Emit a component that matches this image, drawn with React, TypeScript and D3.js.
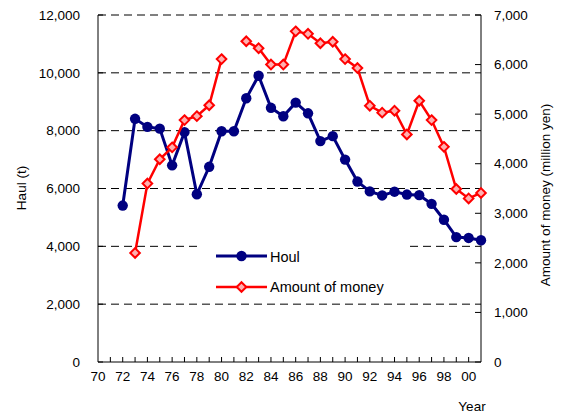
import React from "react";
import * as d3 from "d3";

const years: number[] = d3.range(1972, 2002);
const haul: (number | null)[] = [
  5410, 8410, 8130, 8070, 6800, 7950, 5800, 6750, 7980, 7980,
  9120, 9900, 8790, 8500, 8970, 8600, 7640, 7810, 7000, 6240,
  5900, 5760, 5890, 5790, 5770, 5470, 4920, 4320, 4290, 4210,
];
const money: (number | null)[] = [
  null, 2200, 3600, 4090, 4330, 4880, 4960, 5180, 6110, null,
  6470, 6330, 6000, 6000, 6670, 6620, 6430, 6460, 6110, 5930,
  5170, 5030, 5070, 4590, 5270, 4880, 4340, 3490, 3300, 3410,
];
const xTickLabels: string[] = ["70","72","74","76","78","80","82","84","86","88","90","92","94","96","98","00"];
const leftTicks: number[] = [0, 2000, 4000, 6000, 8000, 10000, 12000];
const rightTicks: number[] = [0, 1000, 2000, 3000, 4000, 5000, 6000, 7000];
const seriesNames: string[] = ["Houl", "Amount of money"];

const W = 562, H = 416;
const L = 98, R = 481, T = 15, B = 362;
const FONT = "'Liberation Sans', Arial, sans-serif";

export default function App() {
  const x = d3.scaleLinear().domain([1970, 2001]).range([L, R]);
  const yL = d3.scaleLinear().domain([0, 12000]).range([B, T]);
  const yR = d3.scaleLinear().domain([0, 7000]).range([B, T]);
  const fmt = d3.format(",");

  const haulPts = years.map((yr, i) => ({ yr, v: haul[i] }));
  const moneyPts = years.map((yr, i) => ({ yr, v: money[i] }));

  const haulLine = d3.line<{ yr: number; v: number | null }>()
    .defined(d => d.v != null)
    .x(d => x(d.yr))
    .y(d => yL(d.v as number));
  const moneyLine = d3.line<{ yr: number; v: number | null }>()
    .defined(d => d.v != null)
    .x(d => x(d.yr))
    .y(d => yR(d.v as number));

  const diamond = (cx: number, cy: number, r: number) =>
    `M${cx},${cy - r}L${cx + r},${cy}L${cx},${cy + r}L${cx - r},${cy}Z`;

  const legX1 = 216, legX2 = 267;
  const legY1 = 256, legY2 = 287;

  return (
    <div style={{ position: "absolute", left: 0, top: 0 }}>
      <svg width={W} height={H} style={{ display: "block", background: "#fff" }} fontFamily={FONT}>
        {/* gridlines */}
        {leftTicks.filter(t => t > 0).map(t => (
          <line key={"g" + t} x1={L} x2={R} y1={yL(t)} y2={yL(t)} stroke="#000" strokeWidth={1} strokeDasharray="8,5" />
        ))}
        {/* axes */}
        <line x1={L} x2={L} y1={T} y2={B} stroke="#000" strokeWidth={1} />
        <line x1={R} x2={R} y1={T} y2={B} stroke="#000" strokeWidth={1} />
        <line x1={L} x2={R} y1={B} y2={B} stroke="#000" strokeWidth={1} />
        {d3.range(1971, 2001).map(yr => (
          <line key={"xt" + yr} x1={x(yr)} x2={x(yr)} y1={B} y2={B - 5} stroke="#000" strokeWidth={1} />
        ))}
        {leftTicks.map(t => (
          <line key={"lt" + t} x1={L} x2={L + 5} y1={yL(t)} y2={yL(t)} stroke="#000" strokeWidth={1} />
        ))}
        {rightTicks.map(t => (
          <line key={"rt" + t} x1={R - 6} x2={R} y1={yR(t)} y2={yR(t)} stroke="#000" strokeWidth={1} />
        ))}
        {/* tick labels */}
        {leftTicks.map(t => (
          <text key={"ll" + t} x={80} y={yL(t)} dy="0.35em" textAnchor="end" fontSize={13.5}>{fmt(t)}</text>
        ))}
        {rightTicks.map(t => (
          <text key={"rl" + t} x={494} y={yR(t)} dy="0.35em" textAnchor="start" fontSize={13.5}>{fmt(t)}</text>
        ))}
        {xTickLabels.map((lab, i) => (
          <text key={"xl" + lab} x={x(1970 + i * 2)} y={381} textAnchor="middle" fontSize={13.5}>{lab}</text>
        ))}
        <text x={472} y={411} textAnchor="middle" fontSize={13.5}>Year</text>
        <text transform={`translate(26,188) rotate(-90)`} textAnchor="middle" fontSize={13.5}>Haul (t)</text>
        <text transform={`translate(550,195) rotate(-90)`} textAnchor="middle" fontSize={13.5}>Amount of money (million yen)</text>

        {/* legend box */}
        <rect x={199} y={234} width={207} height={64} fill="#fff" />

        {/* series */}
        <path d={haulLine(haulPts) || ""} fill="none" stroke="#000080" strokeWidth={3} />
        {haulPts.filter(d => d.v != null).map(d => (
          <circle key={"h" + d.yr} cx={x(d.yr)} cy={yL(d.v as number)} r={5.2} fill="#000080" />
        ))}
        <path d={moneyLine(moneyPts) || ""} fill="none" stroke="#ff0000" strokeWidth={2.5} />
        {moneyPts.filter(d => d.v != null).map(d => (
          <path key={"m" + d.yr} d={diamond(x(d.yr), yR(d.v as number), 4.8)} fill="#ffb0b0" stroke="#ff0000" strokeWidth={2} />
        ))}

        {/* legend */}
        <line x1={legX1} x2={legX2} y1={legY1} y2={legY1} stroke="#000080" strokeWidth={3} />
        <circle cx={(legX1 + legX2) / 2} cy={legY1} r={5.2} fill="#000080" />
        <text x={270} y={legY1 + 1} dy="0.35em" fontSize={14.5}>{seriesNames[0]}</text>
        <line x1={legX1} x2={legX2} y1={legY2} y2={legY2} stroke="#ff0000" strokeWidth={2.5} />
        <path d={diamond((legX1 + legX2) / 2, legY2, 4.8)} fill="#ffb0b0" stroke="#ff0000" strokeWidth={2} />
        <text x={270} y={legY2} dy="0.35em" fontSize={14.5}>{seriesNames[1]}</text>
      </svg>
    </div>
  );
}
